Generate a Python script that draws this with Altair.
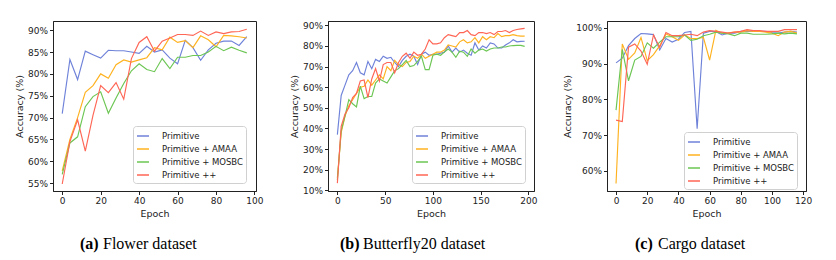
import altair as alt
import pandas as pd

SERIES = ["Primitive", "Primitive + AMAA", "Primitive + MOSBC", "Primitive ++"]
COLORS = ["#6f82d9", "#ffb21f", "#6cc653", "#ff6655"]

# ---- Flower dataset ----
flower_epochs = [0, 4, 8, 12, 16, 20, 24, 28, 32, 36, 40, 44, 48, 52, 56, 60, 64, 68, 72, 76, 80, 84, 88, 92, 96]
flower_primitive = [70.9, 83.3, 78.7, 85.2, 84.4, 83.6, 85.4, 85.3, 85.3, 85.0, 84.7, 86.3, 85.0, 85.5, 83.6, 82.3, 87.7, 86.0, 83.1, 85.5, 87.0, 87.5, 87.5, 86.5, 88.5]
flower_amaa = [57.8, 65.0, 70.0, 75.8, 77.3, 80.0, 79.0, 82.1, 83.2, 82.7, 83.2, 83.7, 86.0, 85.5, 88.4, 87.2, 87.6, 86.0, 88.7, 87.8, 86.2, 88.8, 88.7, 88.5, 88.2]
flower_mosbc = [57.0, 64.2, 65.6, 72.5, 74.8, 75.9, 71.0, 74.5, 77.8, 80.7, 82.3, 81.0, 80.5, 83.5, 81.2, 83.8, 83.8, 84.2, 84.2, 85.0, 86.3, 85.3, 86.1, 85.4, 84.8]
flower_pp = [54.8, 64.5, 69.5, 62.3, 70.5, 77.3, 75.7, 78.0, 74.2, 83.5, 87.2, 88.5, 85.2, 87.5, 88.2, 89.0, 89.0, 88.8, 89.8, 88.8, 89.6, 89.2, 89.6, 89.7, 90.2]

# ---- Butterfly20 dataset ----
bfly_epochs = [0, 4, 8, 12, 16, 20, 24, 28, 32, 36, 40, 44, 48, 52, 56, 60, 64, 68, 72, 76,
               80, 84, 88, 92, 96, 100, 104, 108, 112, 116, 120, 124, 128, 132, 136, 140,
               144, 148, 152, 156, 160, 164, 168, 172, 176, 180, 184, 188, 192, 196]
bfly_primitive = [37, 56, 61, 66, 68, 72, 67, 66, 72.5, 69, 73.5, 72.5, 75, 74, 74.5, 72, 70, 73, 75, 76,
                  75, 71, 76, 77, 75.5, 76, 76, 76.5, 77, 80, 77, 79, 77, 78, 76.5, 75.5, 81.5, 78, 80, 79,
                  81.5, 81, 79, 79, 80.5, 81.5, 83, 82, 82.2, 82.3]
bfly_amaa = [16, 38, 46, 51, 54, 57, 60, 60.5, 63.5, 61, 63.5, 66, 64, 70, 68, 73, 71, 70, 72, 72.5,
             75, 74, 76, 74, 75, 76, 77, 77, 78, 80.5, 80, 79.5, 82, 83, 81.5, 82, 84, 81.5, 84.5, 83,
             84.5, 84, 86, 84.5, 85, 85, 85.5, 85, 84.8, 84.8]
bfly_mosbc = [15, 39, 46, 54, 52, 50.5, 60.5, 54.5, 55.5, 55.5, 62, 64, 63, 62, 65, 68, 69, 71, 73, 70,
              70.5, 72.5, 75, 68.5, 68.5, 75.5, 76, 75.5, 77, 78.5, 77, 74.5, 77.5, 77, 75, 78.5, 76.5, 78, 78.5, 77.5,
              78.5, 79, 79, 79.5, 79.5, 80, 80.2, 80.3, 80.3, 79.8]
bfly_pp = [13.5, 41, 47, 50, 55, 57, 63, 63.5, 55, 64, 69, 63, 71, 72, 72, 67, 72, 75, 76.5, 74,
           77, 75.5, 76, 78.5, 83, 81, 81, 81.5, 84, 85.5, 85, 84.5, 86.5, 86.5, 87.5, 85.5, 85, 86.5, 86.5, 86,
           86.5, 85.5, 87, 87, 87.5, 86.5, 87.5, 88, 88.3, 88.5]

# ---- Cargo dataset ----
cargo_epochs = [0, 4, 8, 12, 16, 20, 24, 28, 32, 36, 40, 44, 48, 52, 56, 60, 64, 68, 72, 76,
                80, 84, 88, 92, 96, 100, 104, 108, 112, 116]
cargo_primitive = [90.2, 91.5, 95, 97, 98.4, 98.3, 98.1, 93.8, 97, 96, 96.8, 98.7, 99, 71.8, 98.5, 99, 99, 98, 98.5, 98.5,
                   99, 99, 99, 99, 99, 98.7, 98.5, 98.8, 99, 98.8]
cargo_amaa = [56.5, 95.5, 91.2, 93, 97.3, 90.8, 92.5, 95, 98.3, 97.5, 96.5, 98, 97, 97, 97.3, 91, 99.3, 98.5, 98.6, 98.8,
              98.8, 99.2, 99, 99, 98.8, 98.5, 97.8, 98.8, 99, 98.5]
cargo_mosbc = [77, 94, 85.2, 91, 92, 95.8, 94.3, 96, 97.5, 97.5, 97.5, 98, 96.5, 96.8, 97.8, 98.2, 98.8, 98.5, 98.3, 97.8,
               98.5, 98.5, 98.2, 98.2, 98.2, 98.3, 98.5, 98.3, 98.5, 98.3]
cargo_pp = [74.2, 73.8, 94.6, 95.5, 93.5, 89.8, 98, 94.5, 98.7, 97.8, 97.8, 98, 98.2, 97.8, 98.8, 99.2, 99, 98.8, 98.5, 98.8,
            99, 99.5, 99.2, 99.2, 99, 99, 99, 99.5, 99.5, 99.5]

# ---- captions ----
cap_tags = ["(a)", "(b)", "(c)"]
cap_texts = ["Flower dataset", "Butterfly20 dataset", "Cargo dataset"]


def make_df(epochs, cols):
    rows = []
    for name, vals in zip(SERIES, cols):
        for e, v in zip(epochs, vals):
            rows.append({"epoch": e, "acc": v, "series": name})
    return pd.DataFrame(rows)


def panel(df, xdom, xticks, ydom, yticks, w, h, legx, legy, tag, caption, capx, capgap):
    lines = alt.Chart(df).mark_line(strokeWidth=1.15, clip=True).encode(
        x=alt.X("epoch:Q", scale=alt.Scale(domain=xdom, nice=False, zero=False),
                axis=alt.Axis(values=xticks, title="Epoch", format="d")),
        y=alt.Y("acc:Q", scale=alt.Scale(domain=ydom, nice=False, zero=False),
                axis=alt.Axis(values=yticks, title="Accuracy (%)", labelExpr="datum.value + '%'")),
        color=alt.Color("series:N", scale=alt.Scale(domain=SERIES, range=COLORS),
                        legend=alt.Legend(title=None, orient="none", legendX=legx, legendY=legy)),
    )
    t1 = alt.Chart(alt.Data(values=[{"t": tag}])).mark_text(
        align="left", baseline="middle", font="Liberation Serif", fontSize=16,
        fontWeight="bold", color="black").encode(
        x=alt.value(capx), y=alt.value(h + 53), text="t:N")
    t2 = alt.Chart(alt.Data(values=[{"t": caption}])).mark_text(
        align="left", baseline="middle", font="Liberation Serif", fontSize=16,
        color="black").encode(
        x=alt.value(capx + capgap), y=alt.value(h + 53), text="t:N")
    return alt.layer(lines, t1, t2).properties(width=w, height=h)


H = 170
p1 = panel(make_df(flower_epochs, [flower_primitive, flower_amaa, flower_mosbc, flower_pp]),
           [-4.8, 100.8], [0, 20, 40, 60, 80, 100], [53.2, 92.1], [55, 60, 65, 70, 75, 80, 85, 90],
           203, H, 80, 105, cap_tags[0], cap_texts[0], 27, 23)
p2 = panel(make_df(bfly_epochs, [bfly_primitive, bfly_amaa, bfly_mosbc, bfly_pp]),
           [-9.8, 205.8], [0, 50, 100, 150, 200], [9.7, 92.1], [10, 20, 30, 40, 50, 60, 70, 80, 90],
           206, H, 84, 105, cap_tags[1], cap_texts[1], 12, 23)
p3 = panel(make_df(cargo_epochs, [cargo_primitive, cargo_amaa, cargo_mosbc, cargo_pp]),
           [-5.8, 121.8], [0, 20, 40, 60, 80, 100, 120], [54.4, 101.9], [60, 70, 80, 90, 100],
           199, H, 77, 111, cap_tags[2], cap_texts[2], 28, 23)

chart = alt.hconcat(p1, p2, p3, spacing=24).resolve_scale(
    color="independent", x="independent", y="independent"
).resolve_legend(color="independent").configure_view(
    stroke="#222", strokeWidth=1
).configure_axis(
    labelFont="DejaVu Sans", titleFont="DejaVu Sans", labelFontSize=9, titleFontSize=9.5,
    titleFontWeight="normal", labelColor="#222", titleColor="#222", tickColor="#222",
    domainColor="#222", tickSize=3.5, grid=False, labelPadding=2, titlePadding=3
).configure_legend(
    labelFont="DejaVu Sans", labelFontSize=8.5, labelColor="#222", symbolType="stroke",
    symbolSize=144, symbolStrokeWidth=1.5, fillColor="white", strokeColor="#d0d0d0",
    cornerRadius=3, padding=3, rowPadding=1, labelOffset=12
).properties(
    padding={"left": 5, "top": 12, "right": 0, "bottom": 0}
)

chart.save("out.html", embed_options={"renderer": "svg", "actions": False})
